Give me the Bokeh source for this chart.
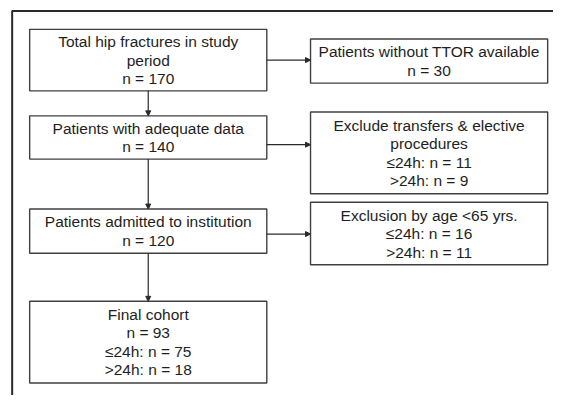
from bokeh.plotting import figure
from bokeh.models import Range1d, Arrow, NormalHead
from bokeh.core.properties import value
from bokeh.embed import file_html
from bokeh.resources import INLINE

# ---- data (texts of the flowchart) ----
main_titles = ["Total hip fractures in study\nperiod", "Patients with adequate data",
               "Patients admitted to institution", "Final cohort"]
main_n = [170, 140, 120, 93]
final_le24 = 75
final_gt24 = 18

side_titles = ["Patients without TTOR available", "Exclude transfers & elective\nprocedures",
               "Exclusion by age <65 yrs."]
side_total = [30, None, None]
side_le24 = [None, 11, 16]
side_gt24 = [None, 9, 11]

W, H = 553, 395
p = figure(width=W, height=H, output_backend="svg", toolbar_location=None,
           x_range=Range1d(0, 569), y_range=Range1d(411, 0),
           min_border=0, outline_line_color=None)
p.axis.visible = False
p.grid.visible = False
p.background_fill_color = "white"
p.border_fill_color = "white"

# outer frame (cropped: only top and left edges visible)
p.line([12, 12, 569], [411, 11, 11], line_color="#2a2a2a", line_width=2)

# box geometry (reference pixels)
main_boxes = [(30, 274, 30, 94), (30, 274, 120, 165), (30, 274, 217, 263), (30, 274, 313, 398)]
side_boxes = [(319, 563, 40, 86), (319, 563, 116, 201), (319, 563, 210, 275)]

def lines_for_main(i):
    ls = main_titles[i].split("\n") + [f"n = {main_n[i]}"]
    if i == 3:
        ls += [f"\u226424h: n = {final_le24}", f">24h: n = {final_gt24}"]
    return ls

def lines_for_side(i):
    ls = side_titles[i].split("\n")
    if side_total[i] is not None:
        ls.append(f"n = {side_total[i]}")
    if side_le24[i] is not None:
        ls.append(f"\u226424h: n = {side_le24[i]}")
    if side_gt24[i] is not None:
        ls.append(f">24h: n = {side_gt24[i]}")
    return ls

boxes = main_boxes + side_boxes
texts = [lines_for_main(i) for i in range(4)] + [lines_for_side(i) for i in range(3)]

p.quad(left=[b[0] for b in boxes], right=[b[1] for b in boxes],
       top=[b[2] for b in boxes], bottom=[b[3] for b in boxes],
       fill_color="white", line_color="#404040", line_width=1.4)

LS = 19.3
tx, ty, tt = [], [], []
for b, ls in zip(boxes, texts):
    cx = (b[0] + b[1]) / 2
    cy = (b[2] + b[3]) / 2
    n = len(ls)
    for k, s in enumerate(ls):
        tx.append(cx)
        ty.append(cy + (k - (n - 1) / 2) * LS)
        tt.append(s)
p.text(x=tx, y=ty, text=tt, text_align="center", text_baseline="middle",
       text_font=value("Liberation Sans"), text_font_size="15.5px", text_color="#1e1e1e")

# arrows
arrows = [(152, 94, 152, 120), (152, 165, 152, 217), (152, 263, 152, 313),
          (274, 62, 319, 62), (274, 150, 319, 150), (274, 243, 319, 243)]
for x0, y0, x1, y1 in arrows:
    p.add_layout(Arrow(x_start=x0, y_start=y0, x_end=x1, y_end=y1,
                       line_color="#2a2a2a", line_width=1.2,
                       end=NormalHead(size=5, fill_color="#2a2a2a", line_color="#2a2a2a")))

open("out.html", "w").write(file_html(p, INLINE))
